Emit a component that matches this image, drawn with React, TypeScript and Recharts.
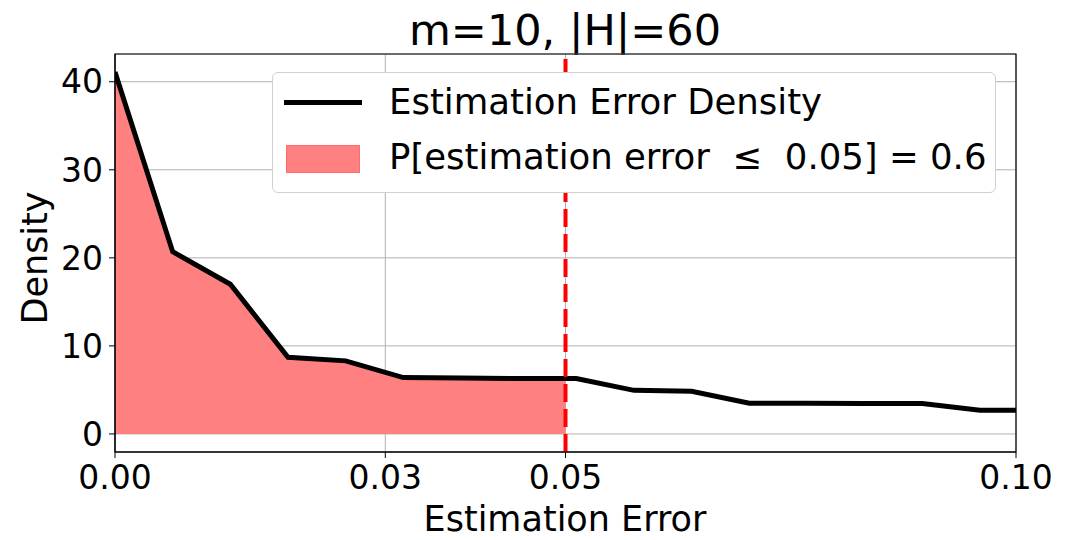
import {
  Area,
  CartesianGrid,
  ComposedChart,
  Label,
  Line,
  ReferenceArea,
  ReferenceLine,
  XAxis,
  YAxis,
} from "recharts";

// estimation error (x) and density (y)
const errors = [
  0, 0.0064, 0.0128, 0.0192, 0.0256, 0.032, 0.0384, 0.0448, 0.05, 0.0512,
  0.0576, 0.064, 0.0704, 0.0768, 0.0832, 0.0896, 0.096, 0.1,
];
const density = [
  41.1, 20.7, 17.0, 8.7, 8.3, 6.4, 6.35, 6.3, 6.3, 6.3, 4.95, 4.85, 3.5, 3.48,
  3.47, 3.45, 2.68, 2.68,
];
const threshold = 0.05;
const probability = 0.6;

const xTicks = [0, 0.03, 0.05, 0.1];
const yTicks = [0, 10, 20, 30, 40];

const data = errors.map((e, i) => ({
  error: e,
  density: density[i],
  shaded: e <= threshold ? density[i] : null,
}));

const font = "'DejaVu Sans', sans-serif";
const W = 1059;
const H = 532;

export default function App() {
  return (
    <div style={{ position: "relative", width: W, height: H, fontFamily: font }}>
      <div
        style={{
          position: "absolute",
          left: 0,
          width: 1114,
          top: 1,
          textAlign: "center",
          fontSize: 43,
          lineHeight: "43px",
          color: "#000",
        }}
      >
        m=10, |H|=60
      </div>
      <ComposedChart
        width={W}
        height={H}
        data={data}
        margin={{ top: 46, right: 51, left: 27, bottom: 38 }}
        style={{ fontFamily: font }}
      >
        <CartesianGrid stroke="#b0b0b0" strokeWidth={1} />
        <XAxis
          dataKey="error"
          type="number"
          domain={[0, 0.1]}
          ticks={xTicks}
          allowDataOverflow
          height={50}
          tickFormatter={(v: number) => v.toFixed(2)}
          tick={{ fill: "#000", fontSize: 33 }}
          tickSize={6}
          tickMargin={8}
          stroke="#000"
          interval={0}
        >
          <Label
            content={() => (
              <text
                x={557}
                y={523}
                textAnchor="middle"
                fill="#000"
                fontSize={35}
              >
                Estimation Error
              </text>
            )}
          />
        </XAxis>
        <YAxis
          type="number"
          domain={[-2.05, 43.15]}
          ticks={yTicks}
          allowDataOverflow
          width={80}
          tick={{ fill: "#000", fontSize: 33 }}
          tickSize={6}
          tickMargin={6}
          stroke="#000"
          interval={0}
        >
          <Label
            content={() => (
              <text
                x={27}
                y={250}
                transform="rotate(-90 27 250)"
                textAnchor="middle"
                dominantBaseline="central"
                fill="#000"
                fontSize={35}
              >
                Density
              </text>
            )}
          />
        </YAxis>
        <Area
          dataKey="shaded"
          type="linear"
          baseValue={0}
          fill="#ff8080"
          fillOpacity={1}
          stroke="none"
          isAnimationActive={false}
        />
        <Line
          dataKey="density"
          type="linear"
          stroke="#000"
          strokeWidth={5}
          dot={false}
          activeDot={false}
          isAnimationActive={false}
        />
        <ReferenceLine
          x={threshold}
          stroke="#ff0000"
          strokeWidth={4}
          strokeDasharray="18 7"
        />
        <ReferenceArea
          x1={0}
          x2={0.1}
          y1={-2.05}
          y2={43.15}
          fill="none"
          stroke="#000"
          strokeWidth={1.2}
        />
      </ComposedChart>
      <div
        style={{
          position: "absolute",
          left: 264,
          top: 64,
          width: 722,
          height: 119,
          background: "#fff",
          border: "1px solid #d0d0d0",
          borderRadius: 6,
          fontSize: 35.5,
          color: "#000",
        }}
      >
        <div
          style={{
            position: "absolute",
            left: 11,
            top: 27,
            width: 78,
            height: 5,
            background: "#000",
          }}
        />
        <div
          style={{
            position: "absolute",
            left: 116,
            top: 7,
            lineHeight: "44px",
            whiteSpace: "pre",
          }}
        >
          Estimation Error Density
        </div>
        <div
          style={{
            position: "absolute",
            left: 13,
            top: 72,
            width: 72,
            height: 26,
            background: "#ff8080",
            border: "1px solid #ff6b6b",
          }}
        />
        <div
          style={{
            position: "absolute",
            left: 116,
            top: 62,
            lineHeight: "44px",
            whiteSpace: "pre",
          }}
        >
          {`P[estimation error  ≤  ${threshold.toFixed(2)}] = ${probability}`}
        </div>
      </div>
    </div>
  );
}
